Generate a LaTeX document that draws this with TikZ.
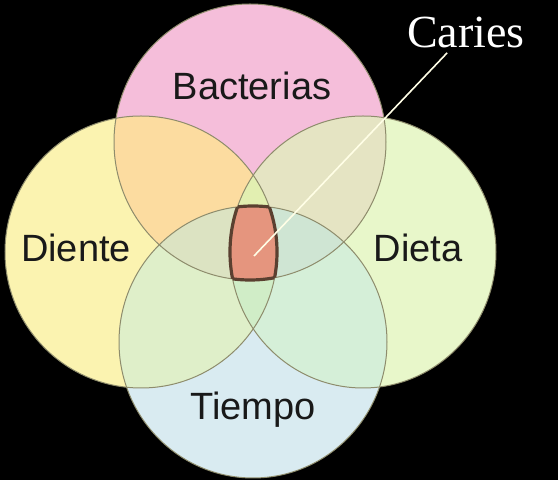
\documentclass[tikz,border=0pt]{standalone}
\usepackage{fontspec}
\setmainfont{Liberation Sans}
\newfontfamily\cariesfont{Liberation Serif}

\definecolor{bactpink}{HTML}{F5BEDA}
\definecolor{dientey}{HTML}{FBF3B0}
\definecolor{dietag}{HTML}{E8F7CA}
\definecolor{tiempob}{HTML}{D9EBF1}
\definecolor{bdiente}{HTML}{FCDCA0}
\definecolor{bdieta}{HTML}{E5E4C3}
\definecolor{tdiente}{HTML}{DFEFC9}
\definecolor{tdieta}{HTML}{D5EFD8}
\definecolor{topzone}{HTML}{E2EFB1}
\definecolor{leftzone}{HTML}{DCE3C2}
\definecolor{rightzone}{HTML}{CFE5D3}
\definecolor{lowzone}{HTML}{D0EDC7}
\definecolor{cariescol}{HTML}{E5957E}
\definecolor{rimcol}{HTML}{8E8C6C}
\definecolor{cariesrim}{HTML}{5A4030}

\def\bact{(250,142) ellipse [x radius=136,y radius=138]}
\def\diente{(141,252) ellipse [x radius=136,y radius=136]}
\def\dieta{(363,252) ellipse [x radius=133,y radius=136]}
\def\tiempo{(253,342) ellipse [x radius=134,y radius=136]}

\tikzset{
  label/.style={font=\fontsize{19}{19}\selectfont, text=black!90},
  rim/.style={draw=rimcol, line width=0.5pt},
  cariesedge/.style={draw=cariesrim, line width=1.6pt}
}

\begin{document}
\begin{tikzpicture}[x=0.5pt,y=-0.5pt]
\fill[black] (0,0) rectangle (558,480);
% single sets
\fill[bactpink] \bact;
\fill[dientey] \diente;
\fill[dietag] \dieta;
\fill[tiempob] \tiempo;
% pairs
\begin{scope} \clip \bact; \fill[bdiente] \diente; \fill[bdieta] \dieta; \end{scope}
\begin{scope} \clip \tiempo; \fill[tdiente] \diente; \fill[tdieta] \dieta; \end{scope}
% triples
\begin{scope} \clip \bact; \clip \diente; \fill[topzone] \dieta; \fill[leftzone] \tiempo; \end{scope}
\begin{scope} \clip \tiempo; \clip \dieta; \fill[rightzone] \bact; \fill[lowzone] \diente; \end{scope}
% outlines
\draw[rim] \bact;
\draw[rim] \diente;
\draw[rim] \dieta;
\draw[rim] \tiempo;
% all four: fill, then each rim clipped to the others
\begin{scope} \clip \bact; \clip \diente; \clip \dieta; \fill[cariescol] \tiempo; \draw[cariesedge] \tiempo; \end{scope}
\begin{scope} \clip \tiempo; \clip \diente; \clip \dieta; \draw[cariesedge] \bact; \end{scope}
\begin{scope} \clip \tiempo; \clip \bact; \clip \dieta; \draw[cariesedge] \diente; \end{scope}
\begin{scope} \clip \tiempo; \clip \bact; \clip \diente; \draw[cariesedge] \dieta; \end{scope}

\node[label] (bacterias) at (252,86) {Bacterias};
\node[label] (dientelbl) at (76,248) {Diente};
\node[label] (dietalbl) at (418,248) {Dieta};
\node[label] (tiempolbl) at (253,410) {Tiempo};
\node[font=\cariesfont\fontsize{23}{23}\selectfont, text=white, inner sep=2pt] (caries) at (466,33) {Caries};
\coordinate (tip) at (254,256);
\draw[white!90!yellow, line width=0.8pt] (caries) -- (tip);
\end{tikzpicture}
\end{document}
